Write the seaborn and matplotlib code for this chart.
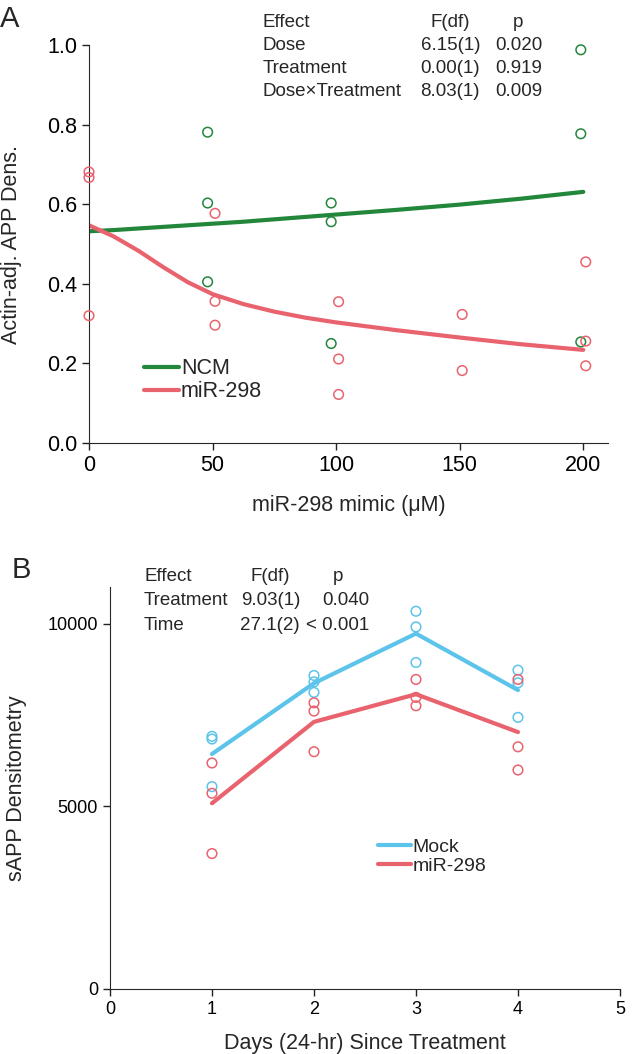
import matplotlib
matplotlib.use('Agg')
import matplotlib.pyplot as plt
import pandas as pd
import seaborn as sns

# panel A: raw points (dose, incl. small horizontal offsets)
ncm_dose = [48, 48, 48, 98, 98, 98, 199, 199, 199]
ncm_val = [0.781, 0.603, 0.405, 0.603, 0.556, 0.250, 0.988, 0.777, 0.254]
mir_dose = [0, 0, 0, 51, 51, 51, 101, 101, 101, 151, 151, 201, 201, 201]
mir_val = [0.681, 0.667, 0.320, 0.577, 0.356, 0.296, 0.355, 0.211, 0.122,
           0.323, 0.182, 0.455, 0.256, 0.194]

# panel A: fitted curves read at these doses
fit_dose = [0, 10, 20, 30, 40, 50, 62.5, 75, 87.5, 100, 125, 150, 175, 200]
ncm_fit = [0.532, 0.535, 0.539, 0.543, 0.547, 0.551, 0.556, 0.562, 0.568,
           0.574, 0.586, 0.599, 0.614, 0.631]
mir_fit = [0.547, 0.519, 0.483, 0.442, 0.404, 0.374, 0.349, 0.330, 0.315,
           0.303, 0.283, 0.265, 0.248, 0.234]

# panel B: three replicates per day
days = [1, 1, 1, 2, 2, 2, 3, 3, 3, 4, 4, 4]
mock_val = [6913, 6839, 5536, 8579, 8404, 8115, 10336, 9907, 8934, 8724, 8377, 7432]
mirb_val = [6183, 5355, 3705, 7831, 7604, 6492, 8470, 7978, 7749, 8470, 6626, 5992]

green = '#23873b'
red = '#e9636f'
blue = '#5cc4ea'

sns.set_style('ticks')
plt.rcParams['font.family'] = ['Liberation Sans', 'DejaVu Sans']

fig = plt.figure(figsize=(6.32, 10.54), dpi=100)
axA = fig.add_axes([0.1408, 0.5797, 0.8212, 0.3776])
axB = fig.add_axes([0.174, 0.0617, 0.807, 0.3814])

# ---- panel A
pts = pd.DataFrame({'dose': ncm_dose + mir_dose,
                    'val': ncm_val + mir_val,
                    'grp': ['NCM'] * len(ncm_dose) + ['miR-298'] * len(mir_dose)})
fit = pd.DataFrame({'dose': fit_dose * 2,
                    'val': ncm_fit + mir_fit,
                    'grp': ['NCM'] * len(fit_dose) + ['miR-298'] * len(fit_dose)})
pal = {'NCM': green, 'miR-298': red}

sns.lineplot(data=fit, x='dose', y='val', hue='grp', palette=pal, lw=3,
             ax=axA, legend=True)
for g, c in pal.items():
    d = pts[pts.grp == g]
    axA.scatter(d.dose, d.val, s=48, facecolors='none', edgecolors=c,
                linewidths=1.1, clip_on=False, zorder=3)

axA.set_xlim(0, 210)
axA.set_ylim(0, 1.0)
axA.set_xticks([0, 50, 100, 150, 200])
axA.set_yticks([0, 0.2, 0.4, 0.6, 0.8, 1.0])
axA.set_yticklabels(['0.0', '0.2', '0.4', '0.6', '0.8', '1.0'])
axA.tick_params(labelsize=15.5, length=5, width=1, colors='#222222', labelcolor='black')
axA.set_xlabel('miR-298 mimic (μM)', fontsize=15.5, labelpad=14)
axA.set_ylabel('Actin-adj. APP Dens.', fontsize=15.5)
axA.yaxis.set_label_coords(-0.13, 0.5)
leg = axA.legend(loc='upper left', bbox_to_anchor=(0.09, 0.235), frameon=False,
                 fontsize=15.5, handlelength=1.6, handletextpad=0.1,
                 labelspacing=0.1, borderaxespad=0)
for ln in leg.get_lines():
    ln.set_linewidth(3)
sns.despine(ax=axA)

fs = 13.5
fig.text(0.416, 0.979, 'Effect', fontsize=fs, va='center')
fig.text(0.712, 0.979, 'F(df)', fontsize=fs, va='center', ha='center')
fig.text(0.820, 0.979, 'p', fontsize=fs, va='center', ha='center')
rowsA = [('Dose', '6.15(1)', '0.020'), ('Treatment', '0.00(1)', '0.919'),
         ('Dose×Treatment', '8.03(1)', '0.009')]
for i, (e, f, p) in enumerate(rowsA):
    yy = 0.957 - i * 0.022
    fig.text(0.416, yy, e, fontsize=fs, va='center')
    fig.text(0.7595, yy, f, fontsize=fs, va='center', ha='right')
    fig.text(0.858, yy, p, fontsize=fs, va='center', ha='right')
fig.text(0.0, 0.982, 'A', fontsize=21, va='center')

# ---- panel B
dfB = pd.DataFrame({'day': days * 2,
                    'val': mock_val + mirb_val,
                    'grp': ['Mock'] * len(days) + ['miR-298'] * len(days)})
palB = {'Mock': blue, 'miR-298': red}
sns.lineplot(data=dfB, x='day', y='val', hue='grp', palette=palB,
             estimator='mean', errorbar=None, lw=3, ax=axB)
for g, c in palB.items():
    d = dfB[dfB.grp == g]
    axB.scatter(d.day, d.val, s=48, facecolors='none', edgecolors=c,
                linewidths=1.1, zorder=3)

axB.set_xlim(0, 5)
axB.set_ylim(0, 11000)
axB.set_xticks([0, 1, 2, 3, 4, 5])
axB.set_yticks([0, 5000, 10000])
axB.tick_params(labelsize=13, length=5, width=1, colors='#222222', labelcolor='black')
axB.set_xlabel('Days (24-hr) Since Treatment', fontsize=15.5, labelpad=11)
axB.set_ylabel('sAPP Densitometry', fontsize=15.5)
axB.yaxis.set_label_coords(-0.162, 0.5)
legB = axB.legend(loc='upper left', bbox_to_anchor=(0.51, 0.395), frameon=False,
                  fontsize=14, handlelength=1.7, handletextpad=0.1,
                  labelspacing=0.1, borderaxespad=0)
for ln in legB.get_lines():
    ln.set_linewidth(3)
sns.despine(ax=axB)

fig.text(0.228, 0.4526, 'Effect', fontsize=fs, va='center')
fig.text(0.427, 0.4526, 'F(df)', fontsize=fs, va='center', ha='center')
fig.text(0.535, 0.4526, 'p', fontsize=fs, va='center', ha='center')
rowsB = [('Treatment', '9.03(1)', '0.040'), ('Time', '27.1(2)', '< 0.001')]
for i, (e, f, p) in enumerate(rowsB):
    yy = 0.430 - i * 0.023
    fig.text(0.228, yy, e, fontsize=fs, va='center')
    fig.text(0.4747, yy, f, fontsize=fs, va='center', ha='right')
    fig.text(0.585, yy, p, fontsize=fs, va='center', ha='right')
fig.text(0.018, 0.459, 'B', fontsize=21, va='center')

fig.savefig('out.png', dpi=100)
